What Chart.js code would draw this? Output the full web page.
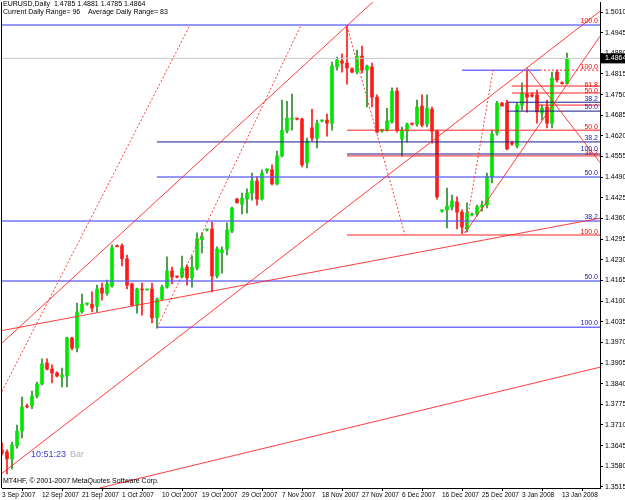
<!DOCTYPE html>
<html><head><meta charset="utf-8">
<script src="https://cdn.jsdelivr.net/npm/chart.js@4.4.1/dist/chart.umd.min.js"></script>
<style>html,body{margin:0;padding:0;background:#fff;} #wrap{width:625px;height:500px;position:relative;}</style>
</head><body><div id="wrap"><canvas id="c" width="625" height="500"></canvas></div>
<script>
// ---- Daily EURUSD candles (bar index = position in arrays) ----
const opens  = [1.3632,1.3625,1.3603,1.3644,1.3691,1.3770,1.3770,1.3801,1.3839,1.3905,1.3886,1.3874,1.3861,1.3864,1.3984,1.3952,1.4066,1.4090,1.4090,1.4084,1.4141,1.4125,1.4147,1.4274,1.4274,1.4233,1.4154,1.4087,1.4138,1.4135,1.4138,1.4047,1.4106,1.4144,1.4195,1.4179,1.4176,1.4207,1.4173,1.4204,1.4293,1.4324,1.4327,1.4179,1.4252,1.4264,1.4321,1.4421,1.4405,1.4421,1.4440,1.4478,1.4421,1.4510,1.4513,1.4469,1.4557,1.4635,1.4673,1.4676,1.4673,1.4535,1.4645,1.4613,1.4667,1.4670,1.4660,1.4837,1.4856,1.4849,1.4831,1.4821,1.4871,1.4827,1.4837,1.4742,1.4635,1.4638,1.4664,1.4761,1.4610,1.4635,1.4660,1.4657,1.4714,1.4657,1.4704,1.4635,1.4383,1.4387,1.4396,1.4412,1.4380,1.4327,1.4371,1.4374,1.4396,1.4402,1.4491,1.4629,1.4723,1.4723,1.4597,1.4588,1.4717,1.4752,1.4749,1.4749,1.4692,1.4711,1.4660,1.4821,1.4787,1.4785];
const highs  = [1.3653,1.3632,1.3656,1.3710,1.3798,1.3776,1.3817,1.3845,1.3918,1.3918,1.3899,1.3877,1.3889,1.3987,1.3987,1.4094,1.4122,1.4094,1.4129,1.4150,1.4157,1.4166,1.4277,1.4277,1.4280,1.4245,1.4157,1.4141,1.4157,1.4138,1.4157,1.4110,1.4150,1.4239,1.4207,1.4179,1.4242,1.4214,1.4242,1.4315,1.4315,1.4327,1.4349,1.4271,1.4271,1.4346,1.4396,1.4424,1.4440,1.4453,1.4503,1.4491,1.4513,1.4516,1.4529,1.4572,1.4733,1.4729,1.4752,1.4676,1.4676,1.4613,1.4704,1.4670,1.4670,1.4689,1.4852,1.4868,1.4878,1.4966,1.4834,1.4890,1.4903,1.4843,1.4849,1.4749,1.4641,1.4707,1.4771,1.4771,1.4648,1.4660,1.4660,1.4733,1.4749,1.4749,1.4711,1.4638,1.4387,1.4456,1.4434,1.4428,1.4387,1.4409,1.4377,1.4402,1.4415,1.4503,1.4638,1.4729,1.4726,1.4733,1.4604,1.4723,1.4787,1.4827,1.4755,1.4764,1.4717,1.4733,1.4821,1.4827,1.4790,1.4881];
const lows   = [1.3616,1.3556,1.3572,1.3637,1.3669,1.3764,1.3761,1.3795,1.3836,1.3883,1.3842,1.3861,1.3830,1.3830,1.3946,1.3940,1.4062,1.4087,1.4066,1.4066,1.4103,1.4119,1.4144,1.4271,1.4211,1.4138,1.4084,1.4062,1.4056,1.4135,1.4031,1.4015,1.4103,1.4141,1.4154,1.4173,1.4173,1.4150,1.4144,1.4198,1.4252,1.4321,1.4129,1.4173,1.4188,1.4245,1.4315,1.4409,1.4374,1.4377,1.4418,1.4402,1.4418,1.4503,1.4466,1.4466,1.4554,1.4629,1.4638,1.4670,1.4522,1.4519,1.4604,1.4582,1.4664,1.4619,1.4638,1.4827,1.4821,1.4783,1.4818,1.4815,1.4818,1.4711,1.4711,1.4629,1.4632,1.4635,1.4660,1.4632,1.4557,1.4601,1.4654,1.4651,1.4648,1.4648,1.4597,1.4421,1.4380,1.4330,1.4387,1.4327,1.4312,1.4318,1.4368,1.4368,1.4383,1.4393,1.4472,1.4622,1.4714,1.4576,1.4591,1.4582,1.4701,1.4695,1.4742,1.4660,1.4670,1.4645,1.4645,1.4790,1.4783,1.4785];
const closes = [1.3622,1.3603,1.3647,1.3691,1.3767,1.3767,1.3801,1.3839,1.3902,1.3886,1.3874,1.3864,1.3867,1.3984,1.3952,1.4066,1.4090,1.4094,1.4078,1.4138,1.4125,1.4154,1.4268,1.4271,1.4233,1.4150,1.4087,1.4138,1.4135,1.4138,1.4047,1.4106,1.4144,1.4195,1.4176,1.4176,1.4204,1.4173,1.4207,1.4296,1.4302,1.4327,1.4179,1.4264,1.4261,1.4324,1.4393,1.4409,1.4424,1.4440,1.4478,1.4421,1.4503,1.4516,1.4469,1.4557,1.4638,1.4676,1.4676,1.4673,1.4529,1.4604,1.4613,1.4660,1.4670,1.4660,1.4840,1.4859,1.4849,1.4834,1.4821,1.4871,1.4827,1.4840,1.4742,1.4632,1.4641,1.4667,1.4761,1.4638,1.4638,1.4657,1.4657,1.4711,1.4654,1.4707,1.4635,1.4428,1.4387,1.4399,1.4415,1.4380,1.4333,1.4377,1.4374,1.4396,1.4402,1.4491,1.4626,1.4723,1.4714,1.4579,1.4594,1.4717,1.4755,1.4742,1.4745,1.4695,1.4707,1.4660,1.4802,1.4796,1.4785,1.4864];

// ---- axis tick labels ----
const dateLabels = ["3 Sep 2007","12 Sep 2007","21 Sep 2007","1 Oct 2007","10 Oct 2007","19 Oct 2007","29 Oct 2007","7 Nov 2007","18 Nov 2007","27 Nov 2007","6 Dec 2007","16 Dec 2007","25 Dec 2007","3 Jan 2008","13 Jan 2008"];
const dateTickBars = [0,8,16,24,32,40,48,56,64,72,80,88,96,104,112];
const priceTicks = ["1.5010","1.4945","1.4880","1.4815","1.4750","1.4685","1.4620","1.4555","1.4490","1.4425","1.4360","1.4295","1.4230","1.4165","1.4100","1.4035","1.3970","1.3905","1.3840","1.3775","1.3710","1.3645","1.3580","1.3515"];
const lastPrice = 1.4864;

// ---- drawn objects: [bar1, price1, bar2, price2] ----
const solidTrendLines = [
  [-0.4, 1.3962, 74.6, 1.5048],
  [-0.4, 1.4006, 119.6, 1.4361],
  [-0.4, 1.3553, 119.6, 1.5012],
  [19.6, 1.3512, 119.6, 1.3892],
  [92.6, 1.4314, 119.6, 1.4934],
  [105.0, 1.4834, 119.6, 1.4536]
];
const dottedTrendLines = [
  [-0.4, 1.3804, 37.6, 1.4969],
  [31.0, 1.4015, 59.8, 1.4969],
  [69.0, 1.4966, 80.6, 1.4308],
  [92.6, 1.4314, 98.2, 1.4827]
];
// horizontal levels: [price, fromBar, toBar]
const blueLevels = [
  [1.4969, -1, 120], [1.4352, -1, 120], [1.4163, -1, 120],
  [1.4018, 31, 120], [1.4491, 31, 120], [1.4827, 92, 107.6]
];
const navyLevels = [
  [1.4601, 31, 120], [1.4563, 69, 120], [1.4726, 101, 120], [1.4698, 101, 120]
];
const redLevels = [
  [1.4638, 69, 120], [1.4557, 69, 120], [1.4308, 69, 120],
  [1.4777, 102, 120], [1.4755, 102, 120], [1.4717, 107, 120]
];
const redDottedLevels = [[1.4827, 107.6, 120]];
// level captions at the right edge: [text, price]
const redCaptions = [["100.0",1.4981],["100.0",1.4836],["61.8",1.4780],["50.0",1.4758],["50.0",1.4646],["38.2",1.4565],["100.0",1.4317]];
const blueCaptions = [["38.2",1.4735],["50.0",1.4708],["38.2",1.4612],["100.0",1.4578],["50.0",1.4502],["38.2",1.4364],["50.0",1.4174],["100.0",1.4030]];

const bull = i => closes[i] >= opens[i];

const datasets = [];
function lineDS(pts, color, dash, width){
  return {type:'line', data:pts, borderColor:color, borderWidth:width||1, borderDash:dash||[],
    pointRadius:0, tension:0, fill:false, order:0};
}
solidTrendLines.forEach(l=>datasets.push(lineDS([{x:l[0],y:l[1]},{x:l[2],y:l[3]}],'rgba(255,40,40,0.9)')));
dottedTrendLines.forEach(l=>datasets.push(lineDS([{x:l[0],y:l[1]},{x:l[2],y:l[3]}],'rgba(255,40,40,0.9)',[2,2])));
blueLevels.forEach(l=>datasets.push(lineDS([{x:l[1],y:l[0]},{x:l[2],y:l[0]}],'rgba(90,90,255,0.85)',[],1.5)));
navyLevels.forEach(l=>datasets.push(lineDS([{x:l[1],y:l[0]},{x:l[2],y:l[0]}],'#1a1a8c')));
redLevels.forEach(l=>datasets.push(lineDS([{x:l[1],y:l[0]},{x:l[2],y:l[0]}],'#ff2020')));
redDottedLevels.forEach(l=>datasets.push(lineDS([{x:l[1],y:l[0]},{x:l[2],y:l[0]}],'#ff2020',[2,2])));
datasets.push(lineDS([{x:-1,y:lastPrice},{x:120,y:lastPrice}],'#c8c8c8'));

datasets.push({type:'bar', order:1, grouped:false, barThickness:3, minBarLength:1,
  data: opens.map((o,i)=>({x:i, y:[o, closes[i]]})),
  backgroundColor: opens.map((o,i)=>bull(i)?'#00e600':'#ff1a1a'),
  borderWidth:0});
datasets.push({type:'bar', order:2, grouped:false, barThickness:1,
  data: lows.map((l,i)=>({x:i, y:[l, highs[i]]})),
  backgroundColor: lows.map((l,i)=>bull(i)?'#2e8b2e':'#ff1a1a'),
  borderWidth:0});

const FONT = "'Liberation Sans', Arial, sans-serif";
const overlay = {
  id:'overlay',
  afterDraw(chart){
    const ctx = chart.ctx, a = chart.chartArea, ys = chart.scales.y;
    ctx.save();
    ctx.strokeStyle = '#000'; ctx.lineWidth = 1;
    ctx.beginPath(); ctx.moveTo(1.5, a.top); ctx.lineTo(1.5, a.bottom); ctx.stroke();
    ctx.font = '7px ' + FONT; ctx.textAlign = 'right'; ctx.textBaseline = 'bottom';
    redCaptions.forEach(c=>{ ctx.fillStyle = '#ff0000'; ctx.fillText(c[0], a.right-2, ys.getPixelForValue(c[1])+3); });
    blueCaptions.forEach(c=>{ ctx.fillStyle = '#2020c0'; ctx.fillText(c[0], a.right-2, ys.getPixelForValue(c[1])+3); });
    const py = ys.getPixelForValue(lastPrice);
    ctx.fillStyle = '#000'; ctx.fillRect(a.right+1, py-5, 24, 10);
    ctx.fillStyle = '#fff'; ctx.textAlign = 'left'; ctx.textBaseline = 'middle';
    ctx.font = '7px ' + FONT; ctx.fillText(lastPrice.toFixed(4), a.right+5, py);
    ctx.fillStyle = '#000'; ctx.textBaseline = 'top'; ctx.textAlign = 'left';
    ctx.font = '7px ' + FONT;
    ctx.fillText('EURUSD,Daily  1.4785 1.4881 1.4785 1.4864', 3, 1);
    ctx.fillText('Current Daily Range= 96    Average Daily Range= 83', 3, 9);
    ctx.fillText('MT4HF, \u00A9 2001-2007 MetaQuotes Software Corp.', 3, a.bottom-10);
    ctx.font = '9px ' + FONT;
    ctx.fillStyle = '#4040c0'; ctx.fillText('10:51:23', 31, 450);
    ctx.fillStyle = '#b4b4b4'; ctx.fillText('Bar', 70, 450);
    ctx.restore();
  }
};

new Chart(document.getElementById('c'), {
  type:'bar',
  data:{datasets},
  plugins:[overlay],
  options:{
    responsive:false, animation:false,
    layout:{padding:{left:2, top:2, right:0, bottom:0}},
    plugins:{legend:{display:false}, tooltip:{enabled:false}},
    scales:{
      x:{type:'linear', min:0, max:119.6, offset:false,
        afterFit(s){ s.height = 12; s.paddingLeft = 0; s.paddingRight = 0; },
        afterBuildTicks(s){ s.ticks = dateTickBars.map(v=>({value:v})); },
        grid:{display:true, drawOnChartArea:false, drawTicks:true, tickLength:3, color:'#000'},
        border:{display:true, color:'#000'},
        ticks:{autoSkip:false, maxRotation:0, align:'start', padding:0, color:'#000',
          font:{family:FONT, size:6.5},
          callback:(v)=>{ const k = dateTickBars.indexOf(v); return k>=0 ? dateLabels[k] : ''; }}
      },
      y:{type:'linear', position:'right', min:1.35116, max:1.50415,
        afterFit(s){ s.width = 25; s.paddingTop = 0; s.paddingBottom = 0; },
        afterBuildTicks(s){ s.ticks = priceTicks.map(v=>({value:parseFloat(v)})); },
        grid:{display:true, drawOnChartArea:false, drawTicks:true, tickLength:3, color:'#000'},
        border:{display:true, color:'#000'},
        ticks:{autoSkip:false, padding:2, color:'#000', font:{family:FONT, size:7},
          callback:(v)=>{ const s = v.toFixed(4); return priceTicks.includes(s) ? s : ''; }}
      }
    }
  }
});
</script></body></html>
